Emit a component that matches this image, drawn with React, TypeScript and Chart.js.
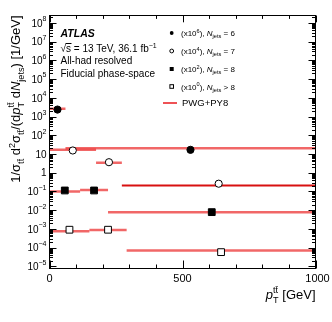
import React, { useEffect, useRef } from "react";
import { Chart, registerables } from "chart.js";

Chart.register(...registerables);

// ---- data (unscaled cross-sections, 1/GeV) ----
const nj6Edges = [0, 60, 1000];
const nj6Data = [2.35e-3, 1.67e-5];
const nj6Pred = [2.57e-3, 2.04e-5];

const nj7Edges = [0, 175, 272, 1000];
const nj7Data = [1.54e-3, 3.65e-4, 2.6e-5];
const nj7Pred = [1.67e-3, 3.4e-4, 2.1e-5];

const nj8Edges = [0, 115, 220, 1000];
const nj8Data = [1.13e-3, 1.13e-3, 7.9e-5];
const nj8Pred = [1.0e-3, 1.2e-3, 7.9e-5];

const nj9Edges = [0, 150, 290, 1000];
const nj9Data = [9.1e-4, 9.1e-4, 5.8e-5];
const nj9Pred = [7.6e-4, 8.7e-4, 7.1e-5];

const scaleFactors = [1e6, 1e4, 1e2, 1];
const scaleExponents = ["6", "4", "2", "0"];
const jetConditions = [" = 6", " = 7", " = 8", " > 8"];

const xMajorTicks = [0, 500, 1000];
const xMinorStep = 100;
const yDecades = [-5, -4, -3, -2, -1, 0, 1, 2, 3, 4, 5, 6, 7, 8];
const xMin = 0;
const xMax = 1000;
const yMin = Math.pow(10, -5.11);
const yMax = Math.pow(10, 8.39);

const FAMILY = '"Liberation Sans", Arial, Helvetica, sans-serif';
const TT = "tt\u0304";

type Piece = { t: string; k?: "n" | "sub" | "sup" | "ss"; t2?: string; it?: boolean; b?: boolean };

function font(size: number, it?: boolean, b?: boolean) {
  return `${it ? "italic " : ""}${b ? "bold " : ""}${size}px ${FAMILY}`;
}

function richWidth(ctx: CanvasRenderingContext2D, pieces: Piece[], size: number) {
  let w = 0;
  for (const p of pieces) {
    const k = p.k || "n";
    if (k === "n") {
      ctx.font = font(size, p.it, p.b);
      w += ctx.measureText(p.t).width;
    } else if (k === "ss") {
      ctx.font = font(size * 0.7, p.it, p.b);
      w += Math.max(ctx.measureText(p.t).width, ctx.measureText(p.t2 || "").width);
    } else {
      ctx.font = font(size * 0.7, p.it, p.b);
      w += ctx.measureText(p.t).width;
    }
  }
  return w;
}

function drawRich(
  ctx: CanvasRenderingContext2D,
  pieces: Piece[],
  x: number,
  y: number,
  size: number,
  align: "left" | "right" = "left"
) {
  const total = richWidth(ctx, pieces, size);
  let cx = align === "right" ? x - total : x;
  ctx.textAlign = "left";
  ctx.textBaseline = "alphabetic";
  for (const p of pieces) {
    const k = p.k || "n";
    if (k === "n") {
      ctx.font = font(size, p.it, p.b);
      ctx.fillText(p.t, cx, y);
      cx += ctx.measureText(p.t).width;
    } else if (k === "sub") {
      ctx.font = font(size * 0.7, p.it, p.b);
      ctx.fillText(p.t, cx, y + size * 0.28);
      cx += ctx.measureText(p.t).width;
    } else if (k === "sup") {
      ctx.font = font(size * 0.7, p.it, p.b);
      ctx.fillText(p.t, cx, y - size * 0.42);
      cx += ctx.measureText(p.t).width;
    } else {
      ctx.font = font(size * 0.7, p.it, p.b);
      ctx.fillText(p.t, cx, y + size * 0.3);
      ctx.fillText(p.t2 || "", cx, y - size * 0.45);
      cx += Math.max(ctx.measureText(p.t).width, ctx.measureText(p.t2 || "").width);
    }
  }
  return total;
}

const decorPlugin = {
  id: "decor",
  afterDraw(chart: any) {
    const ctx: CanvasRenderingContext2D = chart.ctx;
    const { left, right, top, bottom } = chart.chartArea;
    const xs = chart.scales.x;
    const ys = chart.scales.y;
    ctx.save();
    ctx.strokeStyle = "#000";
    ctx.fillStyle = "#000";
    ctx.lineWidth = 1;
    // frame
    ctx.strokeRect(left, top, right - left, bottom - top);

    // x ticks
    ctx.beginPath();
    for (let v = xMin; v <= xMax; v += xMinorStep) {
      const px = Math.round(xs.getPixelForValue(v)) + 0.5;
      const len = xMajorTicks.includes(v) ? 8 : 4;
      ctx.moveTo(px, bottom);
      ctx.lineTo(px, bottom - len);
      ctx.moveTo(px, top);
      ctx.lineTo(px, top + len * 0.85);
    }
    // y ticks
    for (const d of yDecades) {
      for (let m = 1; m <= 9; m++) {
        const v = m * Math.pow(10, d);
        if (v < yMin || v > yMax) continue;
        const py = Math.round(ys.getPixelForValue(v)) + 0.5;
        const len = m === 1 ? 7 : 3.5;
        ctx.moveTo(left, py);
        ctx.lineTo(left + len, py);
        ctx.moveTo(right, py);
        ctx.lineTo(right - len, py);
      }
    }
    ctx.stroke();

    // x tick labels
    ctx.font = font(11);
    ctx.textAlign = "center";
    ctx.textBaseline = "middle";
    for (const v of xMajorTicks) {
      const off = v === xMax ? 2 : 0;
      ctx.fillText(String(v), xs.getPixelForValue(v) + off, bottom + 10);
    }

    // y tick labels
    const labRight = 46.5;
    for (const d of yDecades) {
      const py = ys.getPixelForValue(Math.pow(10, d));
      ctx.textBaseline = "middle";
      ctx.textAlign = "right";
      if (d === 0) {
        ctx.font = font(10);
        ctx.fillText("1", labRight, py + 1);
      } else if (d === 1) {
        ctx.font = font(10);
        ctx.fillText("10", labRight, py + 1);
      } else {
        ctx.font = font(7);
        const e = String(d).replace("-", "\u2212");
        const ew = ctx.measureText(e).width;
        ctx.fillText(e, labRight, py - 3.5);
        ctx.font = font(10);
        ctx.fillText("10", labRight - ew, py + 1);
      }
    }

    // x-axis title
    drawRich(
      ctx,
      [{ t: "p", it: true }, { t: "T", t2: TT, k: "ss" }, { t: " [GeV]" }],
      right,
      299,
      13,
      "right"
    );

    // y-axis title (rotated)
    const yTitle: Piece[] = [
      { t: "1/\u03c3" },
      { t: TT, k: "sub" },
      { t: " d" },
      { t: "2", k: "sup" },
      { t: "\u03c3" },
      { t: TT, k: "sub" },
      { t: "/(d" },
      { t: "p", it: true },
      { t: "T", t2: TT, k: "ss" },
      { t: " d" },
      { t: "N", it: true },
      { t: "jets", k: "sub" },
      { t: ") [1/GeV]" },
    ];
    ctx.save();
    ctx.translate(20, top);
    ctx.rotate(-Math.PI / 2);
    drawRich(ctx, yTitle, 0, 0, 13, "right");
    ctx.restore();

    // ATLAS label block
    ctx.textAlign = "left";
    ctx.textBaseline = "middle";
    ctx.font = font(10.5, true, true);
    ctx.fillText("ATLAS", 60.5, 34);
    ctx.font = font(10);
    ctx.textBaseline = "alphabetic";
    drawRich(
      ctx,
      [{ t: "\u221as = 13 TeV, 36.1 fb" }, { t: "\u22121", k: "sup" }],
      60.5,
      52,
      10,
      "left"
    );
    ctx.font = font(10);
    const sqW = ctx.measureText("\u221a").width;
    const sW = ctx.measureText("s").width;
    ctx.beginPath();
    ctx.moveTo(60.5 + sqW - 0.5, 43.5);
    ctx.lineTo(60.5 + sqW + sW + 0.5, 43.5);
    ctx.stroke();
    ctx.textBaseline = "middle";
    ctx.fillText("All-had resolved", 60.5, 61);
    ctx.fillText("Fiducial phase-space", 60.5, 74);

    // legend
    const rowsY = [33, 51, 69, 86.5];
    const mx = 171.7;
    for (let i = 0; i < 4; i++) {
      const yy = rowsY[i];
      ctx.beginPath();
      ctx.lineWidth = 1;
      if (i === 0 || i === 1) {
        ctx.arc(mx, yy, 1.9, 0, Math.PI * 2);
        if (i === 0) ctx.fill();
        else ctx.stroke();
      } else {
        if (i === 2) ctx.fillRect(mx - 2, yy - 2, 4, 4);
        else ctx.strokeRect(mx - 1.8, yy - 1.8, 3.6, 3.6);
      }
      drawRich(
        ctx,
        [
          { t: "(x10" },
          { t: scaleExponents[i], k: "sup" },
          { t: "), " },
          { t: "N", it: true },
          { t: "jets", k: "sub" },
          { t: jetConditions[i] },
        ],
        181,
        yy + 3,
        8,
        "left"
      );
    }
    ctx.strokeStyle = "#e8191c";
    ctx.lineWidth = 1.5;
    ctx.beginPath();
    ctx.moveTo(163, 103);
    ctx.lineTo(177, 103);
    ctx.stroke();
    ctx.font = font(9.5);
    ctx.textBaseline = "middle";
    ctx.fillStyle = "#000";
    ctx.fillText("PWG+PY8", 182, 103.5);
    ctx.restore();
  },
};

export default function App() {
  const canvasRef = useRef<HTMLCanvasElement | null>(null);

  useEffect(() => {
    if (!canvasRef.current) return;
    const defs = [
      { edges: nj6Edges, data: nj6Data, pred: nj6Pred, style: "circle", filled: true },
      { edges: nj7Edges, data: nj7Data, pred: nj7Pred, style: "circle", filled: false },
      { edges: nj8Edges, data: nj8Data, pred: nj8Pred, style: "rect", filled: true },
      { edges: nj9Edges, data: nj9Data, pred: nj9Pred, style: "rect", filled: false },
    ];
    const pointSets: any[] = [];
    const lineSets: any[] = [];
    defs.forEach((d, si) => {
      const f = scaleFactors[si];
      pointSets.push({
        type: "scatter",
        data: d.data.map((v, i) => ({ x: (d.edges[i] + d.edges[i + 1]) / 2, y: v * f })),
        pointStyle: d.style,
        pointRadius: d.style === "circle" ? 3.6 : 4.8,
        backgroundColor: d.filled ? "#000" : "#fff",
        borderColor: "#000",
        borderWidth: 1,
        showLine: false,
      });
      d.pred.forEach((v, i) => {
        // the wide last N_jets=7 bin overlaps a dark data error bar in the reference
        const dark = si === 1 && i === d.pred.length - 1;
        lineSets.push({
          type: "line",
          data: [
            { x: d.edges[i], y: v * f },
            { x: d.edges[i + 1], y: v * f },
          ],
          borderColor: dark ? "#d81010" : "rgba(235,45,45,0.72)",
          borderWidth: dark ? 2 : 2.5,
          pointRadius: 0,
          showLine: true,
          fill: false,
        });
      });
    });

    const chart = new Chart(canvasRef.current, {
      type: "scatter",
      data: { datasets: [...pointSets, ...lineSets] },
      options: {
        animation: false,
        responsive: false,
        devicePixelRatio: 1,
        events: [],
        layout: { padding: { left: 49.5, top: 15.5, right: 16.5, bottom: 53.5 } },
        plugins: { legend: { display: false }, tooltip: { enabled: false } },
        scales: {
          x: { type: "linear", min: xMin, max: xMax, display: false },
          y: { type: "logarithmic", min: yMin, max: yMax, display: false },
        },
      },
      plugins: [decorPlugin],
    } as any);
    return () => chart.destroy();
  }, []);

  return (
    <div style={{ position: "absolute", left: 0, top: 0, width: 332, height: 322, background: "#fff" }}>
      <canvas ref={canvasRef} width={332} height={322} style={{ display: "block" }} />
    </div>
  );
}
